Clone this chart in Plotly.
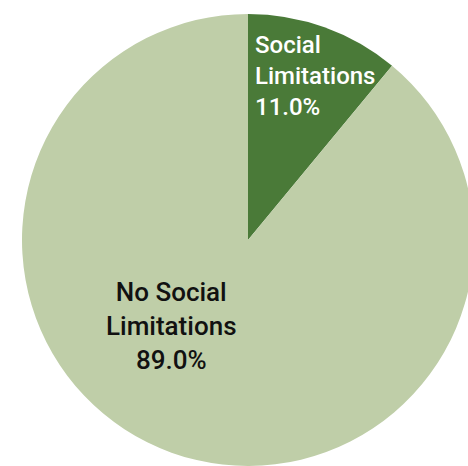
import plotly.graph_objects as go

# Share of respondents by social limitation status
categories = ["Social Limitations", "No Social Limitations"]
shares = [11.0, 89.0]
colors = ["#4a7a38", "#bfcea8"]
text_colors = ["#ffffff", "#111111"]

W, H = 474, 466


def px(x):
    return x / W


def py(y):
    return 1 - y / H


fig = go.Figure(
    go.Pie(
        labels=categories,
        values=shares,
        sort=False,
        direction="clockwise",
        rotation=0,
        marker=dict(colors=colors, line=dict(width=0)),
        textinfo="none",
        hoverinfo="label+percent",
        showlegend=False,
        domain=dict(x=[22 / W, 1], y=[0, 452 / H]),
    )
)


def label_text(name, value):
    words = name.split(" ")
    head = " ".join(words[:-1])
    return f"{head}<br>{words[-1]}<br>{value:.1f}%"


# Slice labels
fig.add_annotation(
    x=px(253), y=py(76), xref="paper", yref="paper",
    xanchor="left", yanchor="middle", align="left",
    text=label_text(categories[0], shares[0]), showarrow=False,
    font=dict(family="Roboto, Arial, sans-serif", size=24, weight=500, color=text_colors[0]),
)
fig.add_annotation(
    x=px(171), y=py(326), xref="paper", yref="paper",
    xanchor="center", yanchor="middle", align="center",
    text=label_text(categories[1], shares[1]), showarrow=False,
    font=dict(family="Roboto, Arial, sans-serif", size=26, weight=500, color=text_colors[1]),
)

fig.update_layout(
    width=W, height=H,
    margin=dict(l=0, r=0, t=0, b=0),
    paper_bgcolor="white",
    plot_bgcolor="white",
)

fig.write_html(
    "out.html",
    post_script="document.documentElement.style.overflow='hidden';document.body.style.overflow='hidden';",
)
